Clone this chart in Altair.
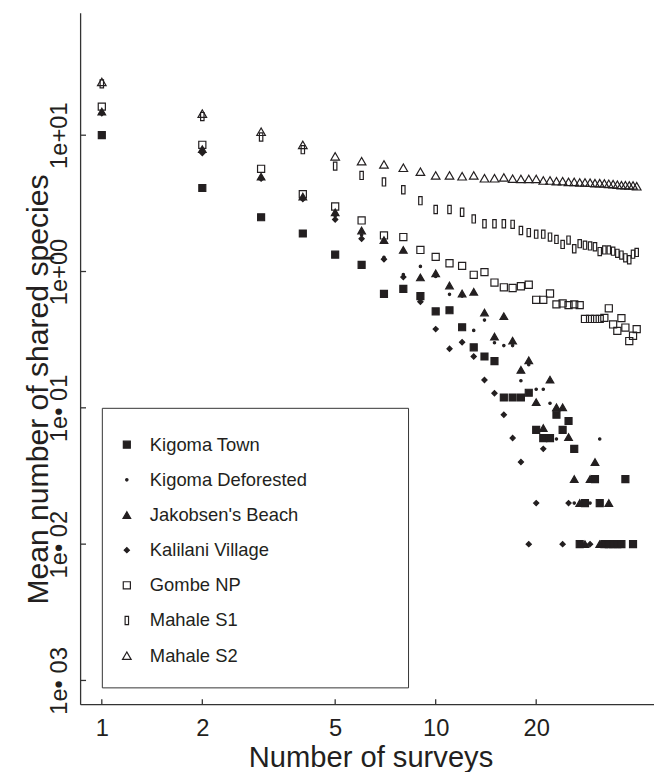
import altair as alt
import pandas as pd

surveys = list(range(1, 41))
site_names = ["Kigoma Town", "Kigoma Deforested", "Jakobsen's Beach",
              "Kalilani Village", "Gombe NP", "Mahale S1", "Mahale S2"]

kigoma_town = [10.0, 4.1, 2.5, 1.9, 1.33, 1.12, 0.685, 0.745, 0.66, 0.51,
               0.52, 0.39, 0.278, 0.238, 0.22, 0.119, 0.119, 0.119, 0.129, 0.069,
               0.06, 0.06, 0.089, 0.069, 0.08, 0.05, 0.01, 0.02, None, 0.03,
               0.02, 0.01, 0.01, 0.01, 0.01, 0.01, 0.03, None, 0.01, None]
kigoma_deforested = [14.6, 7.6, 4.8, 3.45, 2.55, 1.85, 1.27, 0.95, 1.09, 0.92,
                     0.68, 0.66, 0.37, 0.44, 0.30, 0.286, 0.286, 0.158, 0.207, 0.137,
                     0.137, 0.108, 0.059, None, None, 0.02, None, None, 0.02, None,
                     0.059, None, None, None, None, None, None, None, None, None]
jakobsens_beach = [14.9, 7.9, 4.96, 3.55, 2.72, 2.0, 1.7, 1.44, 0.905, 0.97,
                   0.79, 0.69, 0.71, 0.50, 0.333, 0.47, 0.311, 0.19, 0.223, 0.11,
                   0.071, 0.161, 0.101, 0.101, 0.061, 0.03, 0.02, 0.01, 0.03, 0.04,
                   0.01, None, 0.02, None, None, None, None, None, None, None]
kalilani_village = [14.5, 7.4, 4.8, 3.4, 2.41, 1.74, 1.23, 0.91, 0.6, 0.378,
                    0.271, 0.303, 0.238, 0.16, 0.128, 0.089, 0.06, 0.04, 0.01, 0.02,
                    0.05, None, None, 0.01, 0.02, None, None, None, 0.01, None,
                    None, None, None, None, None, None, None, None, None, None]
gombe_np = [16.2, 8.5, 5.67, 3.69, 3.0, 2.37, 1.84, 1.79, 1.44, 1.28,
            1.15, 1.1, 0.946, 0.99, 0.83, 0.766, 0.757, 0.78, 0.80, 0.62,
            0.62, 0.69, 0.574, 0.583, 0.567, 0.574, 0.567, 0.449, 0.449, 0.449,
            0.449, 0.457, 0.537, 0.409, 0.367, 0.455, 0.388, 0.309, 0.338, 0.378]
mahale_s1 = [23.8, 13.7, 9.7, 7.83, 5.93, 5.07, 4.54, 3.98, 3.31, 2.85,
             2.85, 2.72, 2.43, 2.24, 2.24, 2.24, 2.22, 2.0, 1.93, 1.88,
             1.88, 1.79, 1.72, 1.58, 1.70, 1.47, 1.60, 1.56, 1.54, 1.52,
             1.40, 1.44, 1.44, 1.41, 1.36, 1.32, 1.26, 1.22, 1.34, 1.38]
mahale_s2 = [24.6, 14.4, 10.6, 8.5, 7.0, 6.45, 6.1, 5.77, 5.4, 5.07,
             5.07, 5.0, 5.07, 4.83, 4.83, 4.9, 4.8, 4.78, 4.78, 4.78,
             4.65, 4.65, 4.6, 4.6, 4.55, 4.55, 4.5, 4.5, 4.48, 4.45,
             4.45, 4.42, 4.4, 4.38, 4.33, 4.3, 4.3, 4.28, 4.28, 4.22]

x_ticks = [1, 2, 5, 10, 20]
y_ticks = [0.001, 0.01, 0.1, 1, 10]

series = [kigoma_town, kigoma_deforested, jakobsens_beach, kalilani_village,
          gombe_np, mahale_s1, mahale_s2]
rows = []
for name, vals in zip(site_names, series):
    for n, v in zip(surveys, vals):
        if v is not None:
            rows.append({"n": n, "mean": v, "site": name})
df = pd.DataFrame(rows)

INK = "#231f20"
FONT = "Liberation Sans"

xscale = alt.Scale(type="log", domain=[0.861, 45.07], nice=False, zero=False)
yscale = alt.Scale(type="log", domain=[6.70e-4, 79.17], nice=False, zero=False)

shapes = ["square", "circle", "triangle-up", "diamond", "square",
          "M-0.42,-1L0.42,-1L0.42,1L-0.42,1Z", "triangle-up"]
fills = [INK, INK, INK, INK, "transparent", "transparent", "transparent"]
sizes = [50, 6, 60, 28, 52, 68, 76]

legend = alt.Legend(
    orient="none", legendX=22, legendY=400,
    title="\u200b" + "\u00a0" * 239 + "\u200b",
    titleFontSize=4, titlePadding=2, titleLimit=2000,
    padding=22, rowPadding=16.6, labelOffset=14, symbolOffset=-6,
    labelFont=FONT, labelFontSize=18.6, labelColor=INK,
    strokeColor="#333", fillColor="white", symbolStrokeWidth=1.2,
)

x_axis = alt.Axis(
    values=x_ticks, title="Number of surveys", grid=False, ticks=False,
    tickSize=0, labelPadding=13, labelFont=FONT, labelFontSize=24,
    labelColor=INK, labelFlush=False, labelOverlap=False,
    domainColor="#333", domainWidth=1.3,
    titleFont=FONT, titleFontSize=29.5, titleFontWeight="normal",
    titleColor=INK, titleX=294, titleY=63, titleAlign="center",
    titleBaseline="alphabetic")
y_axis = alt.Axis(
    values=y_ticks, title="Mean number of shared species", grid=False,
    ticks=False, tickSize=0, labelPadding=14, labelAngle=270,
    labelAlign="center", labelBaseline="alphabetic",
    labelExpr="datum.value >= 5 ? '1e+01' : datum.value >= 0.5 ? '1e+00' : datum.value >= 0.05 ? '1e\u2022 01' : datum.value >= 0.005 ? '1e\u2022 02' : '1e\u2022 03'",
    labelFont=FONT, labelFontSize=24, labelColor=INK, labelFlush=False,
    labelOverlap=False, domainColor="#333", domainWidth=1.3,
    titleFont=FONT, titleFontSize=30.5, titleFontWeight="normal",
    titleColor=INK, titleAngle=270, titleX=-33, titleY=381,
    titleAlign="center", titleBaseline="alphabetic")

points = alt.Chart(df).mark_point(filled=True, opacity=1, strokeWidth=1.2).encode(
    x=alt.X("n:Q", scale=xscale, axis=x_axis),
    y=alt.Y("mean:Q", scale=yscale, axis=y_axis),
    shape=alt.Shape("site:N", scale=alt.Scale(domain=site_names, range=shapes), legend=legend),
    fill=alt.Fill("site:N", scale=alt.Scale(domain=site_names, range=fills), legend=legend),
    stroke=alt.Stroke("site:N", scale=alt.Scale(domain=site_names, range=[INK] * 7), legend=legend),
    size=alt.Size("site:N", scale=alt.Scale(type="ordinal", domain=site_names, range=sizes), legend=legend),
)

ytick_df = pd.DataFrame({"mean": y_ticks})
xtick_df = pd.DataFrame({"n": x_ticks})

yticks = alt.Chart(ytick_df).mark_rule(color="#333", strokeWidth=1.3).encode(
    y=alt.Y("mean:Q", scale=yscale, axis=y_axis),
    x=alt.value(0), x2=alt.value(6),
)
xticks = alt.Chart(xtick_df).mark_rule(color="#333", strokeWidth=1.3).encode(
    x=alt.X("n:Q", scale=xscale, axis=x_axis),
    y=alt.value(700), y2=alt.value(695),
)

chart = alt.layer(points, yticks, xticks).properties(
    width=581, height=700, background="white",
    autosize=alt.AutoSizeParams(type="none"),
    padding={"left": 73, "top": 0, "right": 0, "bottom": 72},
).configure_view(stroke=None)

chart.save("out.html", embed_options={"renderer": "svg", "actions": False})
